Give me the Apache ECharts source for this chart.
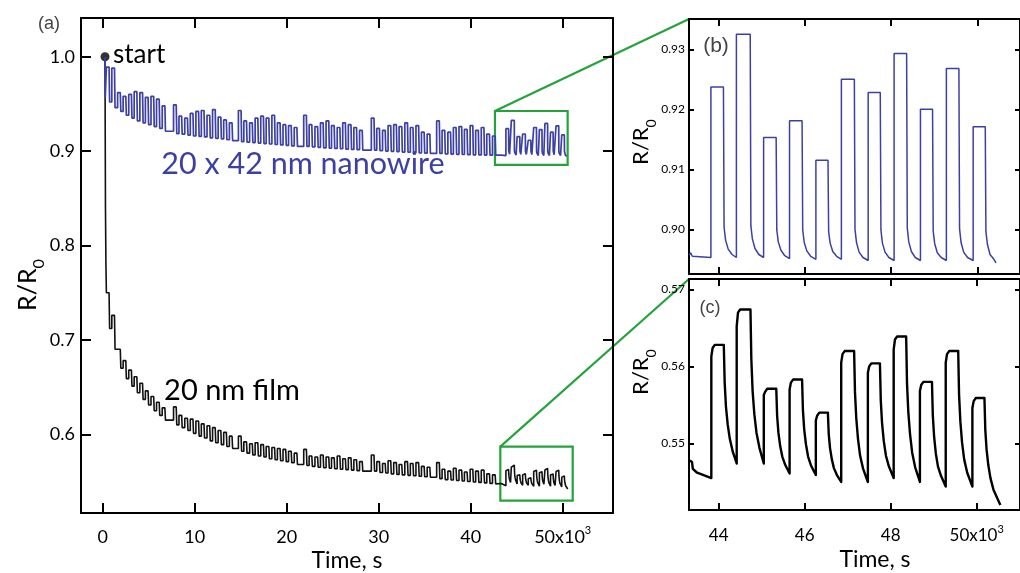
<!DOCTYPE html>
<html>
<head>
<meta charset="utf-8">
<script src="https://cdn.jsdelivr.net/npm/echarts@6/dist/echarts.min.js"></script>
<style>
  html, body { margin: 0; background: #fff; }
  #chart { width: 1020px; height: 573px; }
</style>
</head>
<body>
<div id="chart"></div>
<script>
// ---------- panel (a): whole run, time in 10^3 s ----------
const xTicksA = [0, 10, 20, 30, 40, 50];
const yTicksA = [0.6, 0.7, 0.8, 0.9, 1.0];
const startPoint = [[0.25, 1.0]];

// exposure groups before the zoomed window; pulse spacing inside a group read from (b)
const groupStart = [0.4, 7.7, 14.75, 21.85, 29.2, 36.3];
const pulseOffset = [0, 0.59, 1.22, 1.82, 2.43, 3.02, 3.64, 4.24, 4.85, 5.45, 6.07];
const pulseWidth = 0.29;

const wireLeadA = [[0.25, 1.0], [0.28, 0.957], [0.4, 0.955]];
const wirePeakA = [
  0.989, 0.988, 0.962, 0.958, 0.960, 0.963, 0.962, 0.957, 0.958, 0.955, 0.948,
  0.949, 0.937, 0.935, 0.940, 0.942, 0.943, 0.938, 0.944, 0.936, 0.933, 0.930,
  0.943, 0.932, 0.930, 0.935, 0.937, 0.935, 0.938, 0.930, 0.928, 0.927, 0.925,
  0.938, 0.928, 0.926, 0.930, 0.932, 0.927, 0.925, 0.930, 0.928, 0.925, 0.922,
  0.935, 0.924, 0.922, 0.927, 0.928, 0.926, 0.930, 0.925, 0.927, 0.920, 0.918,
  0.932, 0.922, 0.920, 0.925, 0.926, 0.923, 0.927, 0.922, 0.925, 0.918, 0.916
];
const wireTroughA = [
  0.952, 0.946, 0.942, 0.938, 0.935, 0.932, 0.930, 0.928, 0.926, 0.924, 0.921,
  0.9185, 0.918, 0.917, 0.916, 0.9155, 0.915, 0.914, 0.9135, 0.913, 0.912, 0.911,
  0.910, 0.9095, 0.909, 0.9085, 0.908, 0.9075, 0.907, 0.9065, 0.906, 0.9055, 0.905,
  0.905, 0.9045, 0.904, 0.9035, 0.903, 0.9028, 0.9025, 0.902, 0.9018, 0.9015, 0.901,
  0.901, 0.9005, 0.900, 0.8998, 0.8995, 0.899, 0.8988, 0.8985, 0.898, 0.8978, 0.8975,
  0.8975, 0.897, 0.8968, 0.8966, 0.8964, 0.8962, 0.896, 0.8959, 0.8958, 0.8957, 0.8957
];

const filmLeadA = [[0.25, 1.0], [0.27, 0.93], [0.3, 0.84], [0.35, 0.78], [0.4, 0.75]];
const filmPeakA = [
  0.750, 0.726, 0.690, 0.678, 0.668, 0.661, 0.654, 0.646, 0.640, 0.634, 0.628,
  0.629, 0.620, 0.617, 0.616, 0.614, 0.611, 0.609, 0.607, 0.604, 0.602, 0.598,
  0.598, 0.592, 0.590, 0.591, 0.589, 0.587, 0.586, 0.585, 0.584, 0.582, 0.580,
  0.584, 0.577, 0.576, 0.578, 0.576, 0.575, 0.577, 0.574, 0.575, 0.573, 0.571,
  0.578, 0.571, 0.569, 0.572, 0.570, 0.568, 0.571, 0.569, 0.570, 0.566, 0.565,
  0.570, 0.563, 0.561, 0.564, 0.562, 0.560, 0.563, 0.561, 0.562, 0.558, 0.557
];
const filmTroughA = [
  0.712, 0.690, 0.670, 0.659, 0.651, 0.644, 0.637, 0.631, 0.625, 0.620, 0.615,
  0.610, 0.607, 0.604, 0.601, 0.598, 0.596, 0.593, 0.591, 0.589, 0.587, 0.585,
  0.582, 0.580, 0.578, 0.577, 0.576, 0.574, 0.573, 0.572, 0.571, 0.570, 0.568,
  0.567, 0.566, 0.565, 0.5645, 0.564, 0.5635, 0.563, 0.5625, 0.562, 0.5615, 0.561,
  0.561, 0.5595, 0.559, 0.558, 0.5575, 0.557, 0.5565, 0.556, 0.5555, 0.555, 0.5545,
  0.553, 0.552, 0.5515, 0.551, 0.5505, 0.550, 0.5495, 0.549, 0.5485, 0.548, 0.5475
];

// zoom windows marked in (a): [[x0, yTop], [x1, yBottom]]
const wireBox = [[42.64, 0.9425], [50.54, 0.8853]];
const filmBox = [[43.22, 0.5869], [51.09, 0.5297]];

// ---------- panels (b) and (c): zoomed window ----------
const xTicksBC = [44, 46, 48, 50];
const yTicksB = [0.90, 0.91, 0.92, 0.93];
const yTicksC = [0.55, 0.56, 0.57];
const pulseOn  = [43.83, 44.42, 45.05, 45.65, 46.26, 46.85, 47.47, 48.07, 48.68, 49.28, 49.90];
const pulseOff = [44.12, 44.74, 45.34, 45.94, 46.54, 47.15, 47.75, 48.36, 48.96, 49.57, 50.18];

const wireTailDt = [0.015, 0.05, 0.11, 0.2];
const wireLead = [[43.33, 0.8957], [43.36, 0.8961], [43.40, 0.8955], [43.83, 0.8953]];
const wireTop = [0.9237, 0.9325, 0.9153, 0.9181, 0.9115, 0.925, 0.9228, 0.9293, 0.920, 0.9268, 0.9171];
const wireTail = [
  [0.9003, 0.8982, 0.8967, 0.8958], [0.9006, 0.8984, 0.8968, 0.8958],
  [0.8999, 0.8979, 0.8965, 0.8956], [0.8999, 0.8978, 0.8964, 0.8955],
  [0.8996, 0.8977, 0.8963, 0.8955], [0.9000, 0.8978, 0.8962, 0.8953],
  [0.8999, 0.8977, 0.8962, 0.8953], [0.9002, 0.8979, 0.8963, 0.8953],
  [0.8997, 0.8976, 0.8961, 0.8953], [0.9001, 0.8978, 0.8962, 0.8953],
  [0.8996, 0.8975, 0.8958, 0.8950]
];
const wireBase = [0.8953, 0.8953, 0.8951, 0.8950, 0.8950, 0.8948, 0.8948, 0.8948, 0.8948, 0.8948, 0.8944];
const wireEnd = 50.43;

const filmTailDt = [0.02, 0.05, 0.09, 0.14, 0.21];
const filmLead = [[43.33, 0.5478], [43.38, 0.5476], [43.40, 0.5467], [43.5, 0.5462], [43.83, 0.5455]];
const filmKnee = [0.5613, 0.5652, 0.5563, 0.5570, 0.5530, 0.5605, 0.5592, 0.5622, 0.5568, 0.5605, 0.5546];
const filmTop = [0.5628, 0.5674, 0.5571, 0.5583, 0.5540, 0.5620, 0.5604, 0.5639, 0.5580, 0.5620, 0.5559];
const filmTail = [
  [0.5580, 0.5548, 0.5525, 0.5506, 0.5489], [0.5610, 0.5568, 0.5538, 0.5514, 0.5494],
  [0.5536, 0.5514, 0.5497, 0.5483, 0.5472], [0.5543, 0.5518, 0.5499, 0.5483, 0.5471],
  [0.5512, 0.5494, 0.5480, 0.5468, 0.5459], [0.5567, 0.5533, 0.5506, 0.5484, 0.5467],
  [0.5556, 0.5526, 0.5503, 0.5484, 0.5470], [0.5578, 0.5541, 0.5512, 0.5488, 0.5469],
  [0.5536, 0.5509, 0.5487, 0.5470, 0.5458], [0.5564, 0.5529, 0.5501, 0.5479, 0.5462],
  [0.5518, 0.5492, 0.5472, 0.5455, 0.5440]
];
const filmBase = [0.5474, 0.5474, 0.5461, 0.5459, 0.5450, 0.5450, 0.5455, 0.5450, 0.5444, 0.5444, 0.5420];
const filmEnd = 50.55;

// ---------- build point lists ----------
function buildDetail(lead, top, knee, tailDt, tails, base, endTime) {
  const pts = lead.slice();
  pulseOn.forEach((on, i) => {
    if (knee) {
      pts.push([on, knee[i]], [on + 0.03, top[i] - 0.0004], [on + 0.08, top[i]]);
    } else {
      pts.push([on, top[i]]);
    }
    pts.push([pulseOff[i], top[i]]);
    tails[i].forEach((v, k) => pts.push([pulseOff[i] + tailDt[k], v]));
    pts.push([i < pulseOn.length - 1 ? pulseOn[i + 1] : endTime, base[i]]);
  });
  return pts;
}

function buildMain(lead, peaks, troughs, detail) {
  const pts = lead.slice();
  let k = 0;
  groupStart.forEach(g0 => {
    pulseOffset.forEach(dt => {
      const on = g0 + dt;
      pts.push([on, pts[pts.length - 1][1]], [on, peaks[k]],
        [on + pulseWidth, peaks[k]], [on + pulseWidth + 0.06, troughs[k]]);
      k++;
    });
  });
  return pts.concat(detail);
}

const wireDetail = buildDetail(wireLead, wireTop, null, wireTailDt, wireTail, wireBase, wireEnd);
const filmDetail = buildDetail(filmLead, filmTop, filmKnee, filmTailDt, filmTail, filmBase, filmEnd);
const wireMain = buildMain(wireLeadA, wirePeakA, wireTroughA, wireDetail);
const filmMain = buildMain(filmLeadA, filmPeakA, filmTroughA, filmDetail);

// ---------- chart ----------
const BLUE = '#3c40a4';
const GREEN = '#25a33b';
const FONT = 'Lato';

const chart = echarts.init(document.getElementById('chart'));

function xAx(grid, pos, min, max, ticks, tickLen, labels, fontSize, margin) {
  return {
    type: 'value', gridIndex: grid, position: pos, min, max,
    axisLine: { onZero: false, lineStyle: { color: '#000', width: 2 } },
    axisTick: { inside: true, length: tickLen, customValues: ticks, lineStyle: { color: '#000', width: 2 } },
    axisLabel: labels ? {
      customValues: ticks, margin, color: '#000', fontFamily: FONT, fontSize,
      formatter: v => v === 50 ? '{n|50x10}{p|3}' : '{n|' + v + '}',
      rich: {
        n: { fontFamily: FONT, fontSize, lineHeight: fontSize + 6, color: '#000' },
        p: { fontFamily: FONT, fontSize: 11, lineHeight: 11, verticalAlign: 'top', color: '#000' }
      }
    } : { show: false },
    splitLine: { show: false }
  };
}

function yAx(grid, pos, min, max, ticks, tickLen, fmt, fontSize, margin) {
  return {
    type: 'value', gridIndex: grid, position: pos, min, max,
    axisLine: { onZero: false, lineStyle: { color: '#000', width: 2 } },
    axisTick: { inside: true, length: tickLen, customValues: ticks, lineStyle: { color: '#000', width: 2 } },
    axisLabel: fmt ? {
      customValues: ticks, margin, color: '#000', fontFamily: FONT, fontSize,
      formatter: fmt
    } : { show: false },
    splitLine: { show: false }
  };
}

const rangeA = { x: [-2.36, 55.47], y: [0.5166, 1.041] };
const rangeB = { x: [43.323, 50.984], y: [0.89255, 0.93505] };
const rangeC = { x: [43.311, 51.007], y: [0.54136, 0.57136] };

chart.setOption({
  animation: false,
  backgroundColor: '#fff',
  grid: [
    { left: 81, top: 18, width: 532, height: 495 },
    { left: 689, top: 19, width: 334, height: 255 },
    { left: 689, top: 279, width: 334, height: 231 }
  ],
  xAxis: [
    xAx(0, 'bottom', rangeA.x[0], rangeA.x[1], xTicksA, 10, true, 18, 12),
    xAx(0, 'top', rangeA.x[0], rangeA.x[1], xTicksA, 10, false),
    xAx(1, 'bottom', rangeB.x[0], rangeB.x[1], xTicksBC, 7, false),
    xAx(1, 'top', rangeB.x[0], rangeB.x[1], xTicksBC, 7, false),
    xAx(2, 'bottom', rangeC.x[0], rangeC.x[1], xTicksBC, 7, true, 17, 14),
    xAx(2, 'top', rangeC.x[0], rangeC.x[1], xTicksBC, 7, false)
  ],
  yAxis: [
    yAx(0, 'left', rangeA.y[0], rangeA.y[1], yTicksA, 10, v => v.toFixed(1), 18, 6),
    yAx(0, 'right', rangeA.y[0], rangeA.y[1], yTicksA, 10, null),
    yAx(1, 'left', rangeB.y[0], rangeB.y[1], yTicksB, 5, v => v.toFixed(2), 12, 4),
    yAx(1, 'right', rangeB.y[0], rangeB.y[1], yTicksB, 5, null),
    yAx(2, 'left', rangeC.y[0], rangeC.y[1], yTicksC, 5, v => v.toFixed(2), 12, 4),
    yAx(2, 'right', rangeC.y[0], rangeC.y[1], yTicksC, 5, null)
  ],
  series: [
    { type: 'line', xAxisIndex: 0, yAxisIndex: 0, data: filmMain, showSymbol: false,
      lineStyle: { color: '#111', width: 1.6 }, clip: true },
    { type: 'line', xAxisIndex: 0, yAxisIndex: 0, data: wireMain, showSymbol: false,
      lineStyle: { color: BLUE, width: 1.7 }, clip: true },
    { type: 'scatter', xAxisIndex: 0, yAxisIndex: 0, data: startPoint, symbolSize: 9,
      itemStyle: { color: '#000' } },
    { type: 'line', xAxisIndex: 2, yAxisIndex: 2, data: wireDetail, showSymbol: false,
      lineStyle: { color: BLUE, width: 1.5 }, clip: true },
    { type: 'line', xAxisIndex: 4, yAxisIndex: 4, data: filmDetail, showSymbol: false,
      lineStyle: { color: '#000', width: 2.4, join: 'round' }, clip: true }
  ]
});

// overlays: labels, zoom boxes and connector lines
const toA = p => chart.convertToPixel({ xAxisIndex: 0, yAxisIndex: 0 }, p);
const cornerB = chart.convertToPixel({ xAxisIndex: 2, yAxisIndex: 2 }, [rangeB.x[0], rangeB.y[1]]);
const cornerC = chart.convertToPixel({ xAxisIndex: 4, yAxisIndex: 4 }, [rangeC.x[0], rangeC.y[1]]);

function boxShape(box) {
  const a = toA(box[0]), b = toA(box[1]);
  return { x: a[0], y: a[1], width: b[0] - a[0], height: b[1] - a[1] };
}
const wb = boxShape(wireBox), fb = boxShape(filmBox);

function label(x, y, text, size, color, font, align) {
  return {
    type: 'text', x, y, silent: true,
    style: { text, fontFamily: font || FONT, fontSize: size, fill: color || '#000',
      align: align || 'center', verticalAlign: 'middle' }
  };
}
function ratioLabel(x, y, size) {
  return {
    type: 'text', x, y, rotation: Math.PI / 2, silent: true,
    style: {
      text: '{r|R/R}{s|0}', align: 'center', verticalAlign: 'middle',
      rich: {
        r: { fontFamily: FONT, fontSize: size, lineHeight: size + 6, fill: '#000', verticalAlign: 'top' },
        s: { fontFamily: FONT, fontSize: size * 0.65, lineHeight: size * 0.65, fill: '#000', verticalAlign: 'bottom' }
      }
    }
  };
}

chart.setOption({
  graphic: [
    { type: 'rect', shape: wb, style: { fill: 'none', stroke: GREEN, lineWidth: 2.2 }, silent: true },
    { type: 'rect', shape: fb, style: { fill: 'none', stroke: GREEN, lineWidth: 2.2 }, silent: true },
    { type: 'line', shape: { x1: wb.x, y1: wb.y, x2: cornerB[0], y2: cornerB[1] },
      style: { stroke: GREEN, lineWidth: 2.2 }, silent: true },
    { type: 'line', shape: { x1: fb.x, y1: fb.y, x2: cornerC[0], y2: cornerC[1] },
      style: { stroke: GREEN, lineWidth: 2.2 }, silent: true },
    label(49, 24, '(a)', 18, '#444', 'Liberation Sans'),
    label(716, 46, '(b)', 21, '#444', 'Liberation Sans'),
    label(710, 308, '(c)', 18, '#444', 'Liberation Sans'),
    label(113, 55, 'start', 26, '#000', FONT, 'left'),
    label(303, 164, '20 x 42 nm nanowire', 30.5, BLUE),
    label(232, 391, '20 nm film', 29, '#000'),
    label(347, 561, 'Time, s', 23),
    label(875, 560, 'Time, s', 23),
    ratioLabel(31, 285, 25),
    ratioLabel(644, 142, 22),
    ratioLabel(644, 372, 22)
  ]
});
</script>
</body>
</html>
